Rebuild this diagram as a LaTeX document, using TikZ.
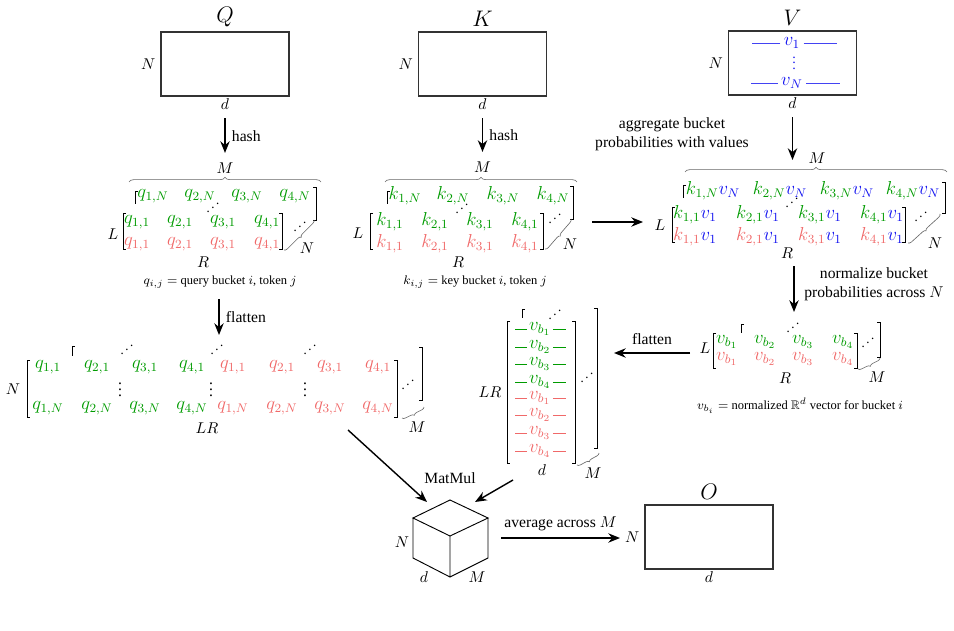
\documentclass[tikz,border=0pt]{standalone}
\usepackage{amsmath,amssymb}
\usepackage[no-math]{fontspec}
\setmainfont{Liberation Serif}
\usepackage{graphicx}
\usetikzlibrary{arrows.meta}
\usetikzlibrary{positioning}
\usetikzlibrary{decorations.pathreplacing}

\definecolor{qgreen}{RGB}{0,155,0}
\definecolor{qred}{RGB}{240,105,105}
\definecolor{vblue}{RGB}{20,20,240}
\newcommand{\rdots}{\reflectbox{$\ddots$}}

\tikzset{
  tens/.style={draw=black!80, line width=0.7pt, minimum width=81.9pt, minimum height=41pt},
  lab/.style={inner sep=1pt},
  big/.style={inner sep=1pt, font=\Large},
  gr/.style={text=qgreen, inner sep=0pt, font=\large},
  rd/.style={text=qred, inner sep=0pt, font=\large},
  dts/.style={inner sep=0pt},
  idts/.style={inner sep=0pt, scale=0.85},
  brk/.style={line width=0.5pt},
  brc/.style={decorate, decoration={brace, amplitude=3pt}, draw=black!60, line width=0.4pt},
  sbrc/.style={decorate, decoration={brace, amplitude=2pt}, draw=black!60, line width=0.4pt},
  arr/.style={line width=0.9pt, -{Stealth[length=7.5pt, width=6pt]}},
  captxt/.style={font=\footnotesize},
}

\begin{document}
\begin{tikzpicture}[x=0.64pt, y=-0.64pt]
  \useasboundingbox (0,0) rectangle (954,631);

  % queries
  \node[tens] (qbox) at (225,64) {};
  \node[big, above=2pt of qbox] (qlab) {$Q$};
  \node[lab, left=2pt of qbox] (qN) {$N$};
  \node[lab, below=0pt of qbox] (qd) {$d$};
  \node[lab] (qM) at (225,168) {$M$};
  \draw[arr, shorten <=4.5pt, shorten >=5pt] (qd) -- node[right, inner sep=4pt] {hash} (qM);
  \draw[brc] (129,182) -- (321,182);
  \draw[brk] (138,191) -| (135,204);
  \draw[brk] (313,187) -| (316,220) -- ++(-3,0);
  \foreach \i/\x in {1/153,2/200,3/247,4/295}
    \node[gr] (qb\i) at (\x,196) {$q_{\i,N}$};
  \node[idts] (qdd) at (213,204) {\rdots};
  \draw[brk] (126,213) -| (123,249) -- ++(3,0);
  \draw[brk] (279,213) -| (282,249) -- ++(-3,0);
  \foreach \i/\x in {1/137,2/180,3/223,4/267} {
    \node[gr] (qg\i) at (\x,222) {$q_{\i,1}$};
    \node[rd] (qr\i) at (\x,244) {$q_{\i,1}$};
  }
  \node[idts] (qrd) at (300,223) {\rdots};
  \draw[sbrc] (314,220) -- (284,250);
  \node[lab] (qNN) at (307,248) {$N$};
  \node[lab] (qL) at (113,234) {$L$};
  \node[lab] (qR) at (203,262) {$R$};
  \node[captxt] (qcap) at (220,282) {$q_{i,j}=$ query bucket $i$, token $j$};

  % keys
  \node[tens] (kbox) at (482.5,64) {};
  \node[big, above=2pt of kbox] (klab) {$K$};
  \node[lab, left=2pt of kbox] (kN) {$N$};
  \node[lab, below=0pt of kbox] (kd) {$d$};
  \node[lab] (kM) at (482.5,167) {$M$};
  \draw[arr, shorten <=4.5pt, shorten >=5pt] (kd) -- node[right, inner sep=4pt] {hash} (kM);
  \draw[brc] (385,182) -- (577,182);
  \draw[brk] (390,191) -| (387,204);
  \draw[brk] (570,186) -| (573,219) -- ++(-3,0);
  \foreach \i/\x in {1/405,2/453,3/503,4/553}
    \node[gr] (kb\i) at (\x,196) {$k_{\i,N}$};
  \node[idts] (kdd) at (462,205) {\rdots};
  \draw[brk] (373,213) -| (370,249) -- ++(3,0);
  \draw[brk] (540,213) -| (543,249) -- ++(-3,0);
  \foreach \i/\x in {1/390,2/435,3/480,4/525} {
    \node[gr] (kg\i) at (\x,222) {$k_{\i,1}$};
    \node[rd] (kr\i) at (\x,244) {$k_{\i,1}$};
  }
  \node[idts] (krd) at (555,215) {\rdots};
  \draw[sbrc] (571,219) -- (545,249);
  \node[lab] (kNN) at (570,244) {$N$};
  \node[lab] (kL) at (358,233) {$L$};
  \node[lab] (kR) at (458,262) {$R$};
  \node[captxt] (kcap) at (475,282) {$k_{i,j}=$ key bucket $i$, token $j$};

  \coordinate (kout) at (592,222);
  \coordinate (vinL) at (643,222);
  \draw[arr] (kout) -- (vinL);

  % values
  \node[tens] (vbox) at (792.5,63) {};
  \node[big, above=2pt of vbox] (vlab) {$V$};
  \node[lab, left=2pt of vbox] (vNl) {$N$};
  \node[lab, below=0pt of vbox] (vd) {$d$};
  \node[text=vblue, inner sep=2pt, font=\large] (v1) at (792,43) {$v_1$};
  \draw[vblue!80, line width=0.6pt] (v1.west) -- ++(-28,0) (v1.east) -- ++(33,0);
  \node[text=vblue, dts, scale=0.9] (vdt) at (794,59) {$\vdots$};
  \node[text=vblue, inner sep=2pt, font=\large] (vN) at (792,83) {$v_N$};
  \draw[vblue!80, line width=0.6pt] (vN.west) -- ++(-27,0) (vN.east) -- ++(34,0);
  \node[lab, align=center] (agg) at (672,134) {aggregate bucket\\probabilities with values};
  \coordinate (vin) at (792.5,160);
  \draw[arr, shorten <=4.5pt] (vd) -- (vin);
  \draw[brc] (685,172) -- (947,172);
  \node[lab] (vM) at (817,158) {$M$};
  \draw[brk] (686,185) -| (683,198);
  \draw[brk] (942,182) -| (945,213) -- ++(-3,0);
  \foreach \i/\x in {1/713,2/780,3/847,4/913}
    \node[gr] (vb\i) at (\x,191) {$k_{\i,N}\textcolor{vblue}{v_N}$};
  \node[idts] (vdd) at (792,199) {\rdots};
  \draw[brk] (675,207) -| (672,242) -- ++(3,0);
  \draw[brk] (902,207) -| (905,242) -- ++(-3,0);
  \foreach \i/\x in {1/695,2/758,3/820,4/882} {
    \node[gr] (vg\i) at (\x,215) {$k_{\i,1}\textcolor{vblue}{v_1}$};
    \node[rd] (vr\i) at (\x,237) {$k_{\i,1}\textcolor{vblue}{v_1}$};
  }
  \node[idts] (vrd) at (921,213) {\rdots};
  \draw[sbrc] (940,214) -- (908,243);
  \node[lab] (vNN) at (935,243) {$N$};
  \node[lab] (vL) at (660,225) {$L$};
  \node[lab] (vR) at (787,253) {$R$};

  \coordinate (va) at (794,266);
  \coordinate (vb) at (794,312);
  \draw[arr] (va) -- (vb);
  \node[lab, align=center] (nrm) at (874,284) {normalize bucket\\probabilities across $N$};

  % normalized buckets
  \node[lab] (nL) at (705,348) {$L$};
  \draw[brk] (716,333) -| (713,368) -- ++(3,0);
  \draw[brk] (854,333) -| (857,368) -- ++(-3,0);
  \draw[brk] (744,324) -| (741,333);
  \draw[brk] (877,322) -| (880,357) -- ++(-3,0);
  \foreach \i/\x in {1/727,2/765,3/803,4/843} {
    \node[gr] (ng\i) at (\x,342) {$v_{b_\i}$};
    \node[rd] (nr\i) at (\x,359) {$v_{b_\i}$};
  }
  \node[idts] (ndd) at (793,324) {\rdots};
  \node[idts] (nrd) at (868,339) {\rdots};
  \draw[sbrc] (880,358) -- (858,369);
  \node[lab] (nM) at (877,377) {$M$};
  \node[lab] (nR) at (785,378) {$R$};
  \node[captxt] (ncap) at (800,406) {$v_{b_i}=$ normalized $\mathbb{R}^d$ vector for bucket $i$};

  \coordinate (nf1) at (690,353);
  \coordinate (nf2) at (614,353);
  \draw[arr] (nf1) -- node[above, inner sep=5pt] {flatten} (nf2);

  % flattened values
  \node[lab] (lLR) at (490,392) {$LR$};
  \draw[brk] (510,321) -| (507,463) -- ++(3,0);
  \draw[brk] (572,321) -| (575,463) -- ++(-3,0);
  \draw[brk] (525,309) -| (522,318);
  \draw[brk] (594,308) -| (597,448) -- ++(-3,0);
  \foreach \i/\y in {1/329,2/347,3/364,4/382} {
    \node[gr, inner sep=1pt] (lg\i) at (540,\y) {$v_{b_\i}$};
    \draw[qgreen] (lg\i.west) -- ++(-12,0) (lg\i.east) -- ++(13,0);
  }
  \foreach \i/\y in {1/398,2/415,3/433,4/451} {
    \node[rd, inner sep=1pt] (lr\i) at (540,\y) {$v_{b_\i}$};
    \draw[qred] (lr\i.west) -- ++(-12,0) (lr\i.east) -- ++(13,0);
  }
  \node[idts] (ldd) at (555,311) {\rdots};
  \node[idts] (lrd) at (587,374) {\rdots};
  \draw[sbrc] (599,453) -- (577,465);
  \node[lab] (lM) at (593,473) {$M$};
  \node[lab] (ld) at (542,470) {$d$};

  % flattened queries
  \coordinate (qf1) at (219,299);
  \coordinate (qf2) at (219,335);
  \draw[arr] (qf1) -- node[right, inner sep=4pt] {flatten} (qf2);
  \node[lab] (bN) at (13,389) {$N$};
  \draw[brk] (30,360) -| (27,417) -- ++(3,0);
  \draw[brk] (394,360) -| (397,417) -- ++(-3,0);
  \draw[brk] (75,346) -| (72,356);
  \draw[brk] (419,347) -| (422,400) -- ++(-3,0);
  \foreach \i/\x in {1/48,2/97,3/145,4/192} {
    \node[gr] (bg\i) at (\x,367) {$q_{\i,1}$};
    \node[gr] (bgn\i) at (\x,408) {$q_{\i,N}$};
  }
  \foreach \i/\x in {1/233,2/282,3/330,4/378} {
    \node[rd] (br\i) at (\x,367) {$q_{\i,1}$};
    \node[rd] (brn\i) at (\x,408) {$q_{\i,N}$};
  }
  \foreach \k/\x in {1/120,2/211,3/305}
    \node[dts] (bv\k) at (\x,385) {$\vdots$};
  \foreach \k/\x in {1/127,2/217,3/310}
    \node[idts] (bi\k) at (\x,346) {\rdots};
  \node[idts] (brd) at (408,381) {\rdots};
  \draw[sbrc] (424,407) -- (402,418);
  \node[lab] (bM) at (417,427) {$M$};
  \node[lab] (bLR) at (207,428) {$LR$};

  % matmul cube
  \node[lab] (mm) at (450,478) {MatMul};
  \coordinate (cT) at (450,500);
  \coordinate (cLT) at (413,518);
  \coordinate (cRT) at (488,518);
  \coordinate (cC) at (450,536);
  \coordinate (cLB) at (413,558);
  \coordinate (cB) at (450,577);
  \coordinate (cRB) at (488,558);
  \draw[line width=0.6pt] (cLT) -- (cT) -- (cRT) -- (cC) -- cycle
    (cLT) -- (cLB) -- (cB) -- (cRB) -- (cRT) (cC) -- (cB);
  \node[lab] (cN) at (402,542) {$N$};
  \node[lab] (cd) at (424,577) {$d$};
  \node[lab] (cM) at (477,577) {$M$};

  \coordinate (bout) at (348,430);
  \coordinate (cin1) at (427,502);
  \draw[arr] (bout) -- (cin1);
  \coordinate (lout) at (513,480);
  \coordinate (cin2) at (475,502);
  \draw[arr] (lout) -- (cin2);

  % output
  \coordinate (cout) at (501,538);
  \coordinate (oin) at (620,538);
  \draw[arr] (cout) -- node[above, inner sep=4pt] {average across $M$} (oin);
  \node[tens] (obox) at (709,537) {};
  \node[big, above=2pt of obox] (olab) {$O$};
  \node[lab, left=2pt of obox] (oN) {$N$};
  \node[lab, below=0pt of obox] (od) {$d$};
\end{tikzpicture}
\end{document}
